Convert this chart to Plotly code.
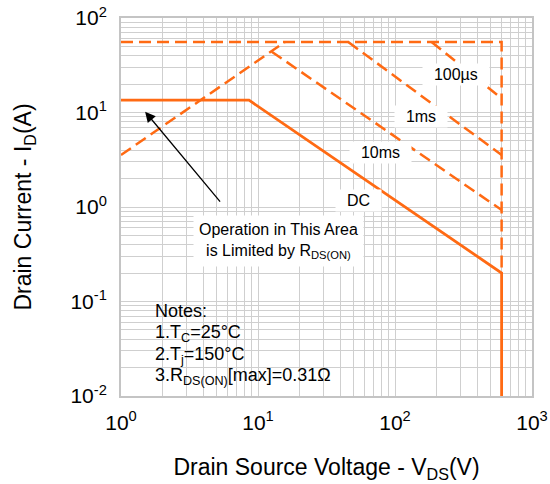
import numpy as np
import plotly.graph_objects as go

# ---- data (V in volts, I in amps) ----
dc_v = [1, 8.6, 600, 600]
dc_i = [13.5, 13.5, 0.2, 0.01]

rds_v = [1, 15.7]
rds_i = [3.55, 55.7]

top_v = [1, 600, 600]
top_i = [55.7, 55.7, 0.2]

us100_v = [185, 600]
us100_i = [55.7, 14.1]

ms1_v = [45.6, 600]
ms1_i = [55.7, 3.55]

ms10_v = [12.6, 600]
ms10_i = [44, 0.93]

tick_vals_x = [1, 10, 100, 1000]
tick_text_x = ["10<sup>0</sup>", "10<sup>1</sup>", "10<sup>2</sup>", "10<sup>3</sup>"]
tick_vals_y = [0.01, 0.1, 1, 10, 100]
tick_text_y = ["10<sup>-2</sup>", "10<sup>-1</sup>", "10<sup>0</sup>", "10<sup>1</sup>", "10<sup>2</sup>"]

labels = ["100µs", "1ms", "10ms", "DC"]
label_v = [280, 155, 78, 53.7]
label_i = [25, 9.0, 3.73, 1.16]

ORANGE = "#ff6a13"
FONT = "Liberation Sans, Arial, sans-serif"
GRID = "#cfcfcf"

fig = go.Figure()
dash = "12px,6px"
for v, i in [(rds_v, rds_i), (top_v, top_i), (us100_v, us100_i), (ms1_v, ms1_i), (ms10_v, ms10_i)]:
    fig.add_trace(go.Scatter(x=v, y=i, mode="lines",
                             line=dict(color=ORANGE, width=2.5, dash=dash),
                             showlegend=False, hoverinfo="skip"))
fig.add_trace(go.Scatter(x=dc_v, y=dc_i, mode="lines",
                         line=dict(color=ORANGE, width=2.8),
                         showlegend=False, hoverinfo="skip"))

# curve labels with white background
for t, v, i in zip(labels, label_v, label_i):
    fig.add_annotation(x=np.log10(v), y=np.log10(i), text="  " + t + "  ", showarrow=False,
                       font=dict(family=FONT, size=16, color="black"),
                       bgcolor="white", borderpad=2)

# Operation text
fig.add_annotation(x=np.log10(14.0), y=np.log10(0.44),
                   text="Operation in This Area<br>is Limited by R<sub>DS(ON)</sub>",
                   showarrow=False, font=dict(family=FONT, size=16, color="black"),
                   bgcolor="white", borderpad=5, align="center")
# arrow
fig.add_annotation(x=np.log10(1.5), y=np.log10(10.2), ax=np.log10(5.4), ay=np.log10(1.1),
                   axref="x", ayref="y", xref="x", yref="y", text="",
                   showarrow=True, arrowhead=2, arrowsize=1.6, arrowwidth=1.3,
                   arrowcolor="black")

# notes box
fig.add_shape(type="rect", xref="x", yref="y",
              x0=np.log10(1.62), x1=np.log10(24), y0=np.log10(0.0118), y1=np.log10(0.093),
              fillcolor="white", line=dict(width=0), layer="between")
notes = ["Notes:", "1.T<sub>C</sub>=25°C", "2.T<sub>j</sub>=150°C", "3.R<sub>DS(ON)</sub>[max]=0.31Ω"]
notes_i = [0.079, 0.046, 0.0268, 0.0160]
for t, i in zip(notes, notes_i):
    fig.add_annotation(x=np.log10(1.72), y=np.log10(i), text=t, showarrow=False,
                       xanchor="left", yanchor="middle",
                       font=dict(family=FONT, size=18, color="black"))

axis_common = dict(type="log", showgrid=True, gridcolor=GRID, gridwidth=1,
                   showline=True, linecolor="#c4c4c4", linewidth=2, mirror=True,
                   ticks="", zeroline=False, automargin=False,
                   tickfont=dict(family=FONT, size=21, color="black"),
                   minor=dict(showgrid=True, gridcolor=GRID, gridwidth=1, dtick="D1"))

fig.update_xaxes(**axis_common, range=[0, 3], tickvals=tick_vals_x, ticktext=tick_text_x,
                 ticklabelstandoff=7,
                 title=dict(text="Drain Source Voltage - V<sub>DS</sub>(V)",
                            font=dict(family=FONT, size=23, color="black"), standoff=26))
fig.update_yaxes(**axis_common, range=[-2, 2], tickvals=tick_vals_y, ticktext=tick_text_y,
                 ticklabelstandoff=8,
                 title=dict(text="Drain Current - I<sub>D</sub>(A)",
                            font=dict(family=FONT, size=23, color="black"), standoff=32))

fig.update_layout(width=550, height=484, margin=dict(l=121, r=18, t=18, b=88),
                  paper_bgcolor="white", plot_bgcolor="white")

fig.write_html("out.html")
